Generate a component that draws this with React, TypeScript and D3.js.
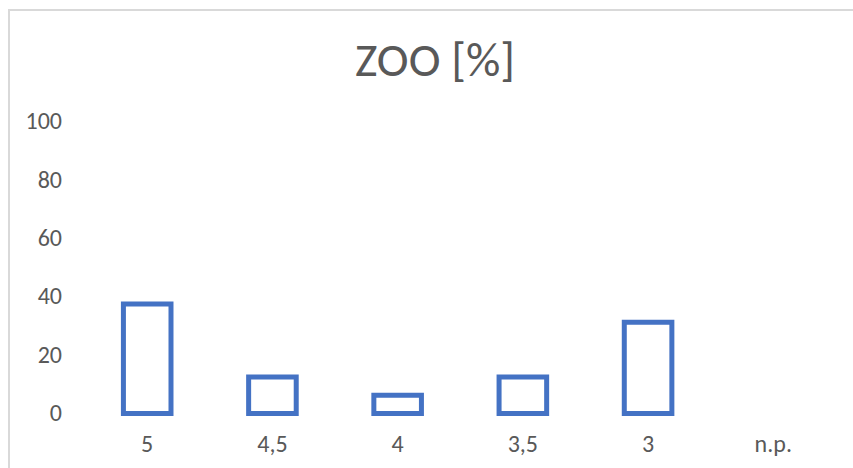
import * as d3 from 'd3'

const categories = ['5', '4,5', '4', '3,5', '3', 'n.p.']
const values = [37.5, 12.5, 6.25, 12.5, 31.25, 0]
const yTicks = [0, 20, 40, 60, 80, 100]
const title = 'ZOO [%]'

const width = 853
const height = 468
const font = "Calibri, Carlito, 'Open Sans', sans-serif"
const textColor = '#595959'
const barColor = '#4472C4'

export default function App() {
  // x scale: bands centred on category labels
  const x = d3.scaleBand<string>().domain(categories).range([84.6, 835.9]).paddingInner(0.62).paddingOuter(0.31)

  // y scale
  const y = d3.scaleLinear().domain([0, 100]).range([413.5, 121.5])

  return (
    <svg width={width} height={height} style={{ position: 'absolute', left: 0, top: 0, background: '#fff' }}>
      <rect x={9} y={10} width={width + 20} height={height + 20} fill="#fff" stroke="#d9d9d9" strokeWidth={2} />
      <text x={435} y={76} textAnchor="middle" fontFamily={font} fontSize={48} fill={textColor}>
        {title}
      </text>
      {yTicks.map((t) => (
        <text key={t} x={62} y={y(t)} dy="0.32em" textAnchor="end" fontFamily={font} fontSize={24} fill={textColor}>
          {t}
        </text>
      ))}
      {categories.map((c, i) =>
        values[i] > 0 ? (
          <rect
            key={c}
            x={x(c)}
            y={y(values[i])}
            width={x.bandwidth()}
            height={y(0) - y(values[i])}
            fill="#fff"
            stroke={barColor}
            strokeWidth={5}
          />
        ) : null
      )}
      {categories.map((c) => (
        <text
          key={c}
          x={(x(c) ?? 0) + x.bandwidth() / 2}
          y={452}
          textAnchor="middle"
          fontFamily={font}
          fontSize={24}
          fill={textColor}
        >
          {c}
        </text>
      ))}
    </svg>
  )
}
